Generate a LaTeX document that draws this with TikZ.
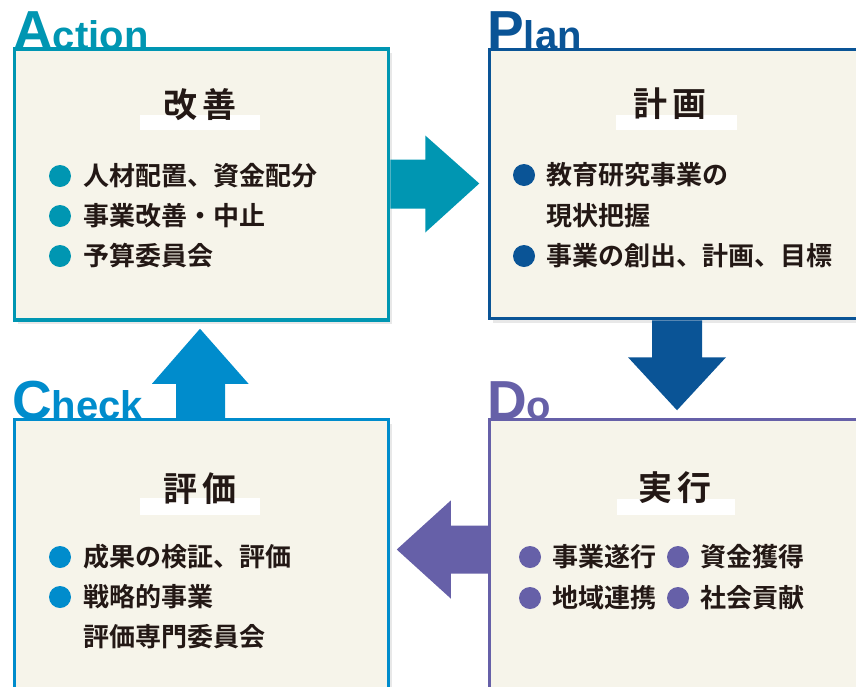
\documentclass[tikz,border=0pt]{standalone}
\usepackage{fontspec}
\newfontfamily\cjk{Noto Sans CJK JP Bold}
\newfontfamily\headfont{Liberation Sans}
\usetikzlibrary{shadows,calc}
\definecolor{actc}{RGB}{0,150,178}
\definecolor{planc}{RGB}{10,84,150}
\definecolor{chkc}{RGB}{0,140,204}
\definecolor{doc}{RGB}{102,96,168}
\definecolor{cream}{RGB}{246,244,234}
\definecolor{ink}{RGB}{35,24,21}
\tikzset{
  pdcabox/.style={draw=#1, line width=3.5pt, fill=cream, inner sep=0pt,
    drop shadow={opacity=0.18, shadow xshift=3pt, shadow yshift=-4pt}},
  headlbl/.style={text=#1, anchor=base west, inner sep=0pt, font=\headfont\bfseries},
  ttl/.style={text=ink, inner sep=0pt, font=\cjk\fontsize{34}{36}\selectfont},
  bartop/.style={fill=white},
  itm/.style={text=ink, anchor=west, inner sep=0pt, font=\cjk\fontsize{26}{28}\selectfont},
}
\begin{document}
\begin{tikzpicture}[x=1pt,y=-1pt]
\useasboundingbox (0,0) rectangle (856,686);
% boxes
\node[pdcabox=actc, minimum width=374pt, minimum height=271pt] (act) at (201.5,184.5) {};
\node[pdcabox=planc, minimum width=375pt, minimum height=269pt] (plan) at (677,184) {};
\node[pdcabox=chkc, minimum width=374pt, minimum height=272pt] (chk) at (201.5,555.5) {};
\node[pdcabox=doc, minimum width=375pt, minimum height=272pt] (do) at (677,555.5) {};
% arrows
\begin{scope}[shift={(act.east)}]
\fill[actc] (0,-25) -- (35,-25) -- (35,-49) -- (89,-1) -- (35,48) -- (35,24) -- (0,24) -- cycle;
\end{scope}
\begin{scope}[shift={(plan.south)}]
\fill[planc] (-25,0) -- (25,0) -- (25,37) -- (49,37) -- (0,90) -- (-49,37) -- (-25,37) -- cycle;
\end{scope}
\begin{scope}[shift={(chk.north)}]
\fill[chkc] (-25.5,0) -- (23.5,0) -- (23.5,-34) -- (47,-34) -- (-1.5,-89) -- (-49.5,-34) -- (-25.5,-34) -- cycle;
\end{scope}
\begin{scope}[shift={(do.west)}]
\fill[doc] (0,-30) -- (-37,-30) -- (-37,-55) -- (-91,-6) -- (-37,43) -- (-37,18) -- (0,18) -- cycle;
\end{scope}
% headings
\node[headlbl=actc] (hact) at (13,49) {\fontsize{55}{55}\selectfont A\fontsize{40}{40}\selectfont ction};
\node[headlbl=planc] (hplan) at (487,49) {\fontsize{55}{55}\selectfont P\fontsize{40}{40}\selectfont lan};
\node[headlbl=chkc] (hchk) at (12,419) {\fontsize{55}{55}\selectfont C\fontsize{40}{40}\selectfont heck};
\node[headlbl=doc] (hdo) at (487,419) {\fontsize{55}{55}\selectfont D\fontsize{40}{40}\selectfont o};
% title bars
\fill[bartop] (140,115) rectangle (260,130);
\fill[bartop] (616,115) rectangle (737,130);
\fill[bartop] (140,498) rectangle (260,515);
\fill[bartop] (617,499) rectangle (735,515);
% titles
\node[ttl] (tact) at (200,105) {改\hspace{6pt}善};
\node[ttl] (tplan) at (670,104) {計\hspace{6pt}画};
\node[ttl] (tchk) at (200,489) {評\hspace{6pt}価};
\node[ttl] (tdo) at (675,488) {実\hspace{6pt}行};
% Action items
\fill[actc] (60,176) circle (11);
\fill[actc] (60,216) circle (11);
\fill[actc] (60,256) circle (11);
\node[itm] (a1) at (83,176) {人材配置、資金配分};
\node[itm] (a2) at (83,216) {事業改善・中止};
\node[itm] (a3) at (83,256) {予算委員会};
% Plan items
\fill[planc] (524,175) circle (11);
\fill[planc] (524,256) circle (11);
\node[itm] (p1) at (546,175) {教育研究事業の};
\node[itm] (p2) at (546,216) {現状把握};
\node[itm] (p3) at (546,256) {事業の創出、計画、目標};
% Check items
\fill[chkc] (60,557) circle (11);
\fill[chkc] (60,597) circle (11);
\node[itm] (c1) at (83,557) {成果の検証、評価};
\node[itm] (c2) at (83,597) {戦略的事業};
\node[itm] (c3) at (83,637) {評価専門委員会};
% Do items
\fill[doc] (530,557) circle (11);
\fill[doc] (678,557) circle (11);
\fill[doc] (530,598) circle (11);
\fill[doc] (678,598) circle (11);
\node[itm] (d1) at (552,557) {事業遂行};
\node[itm] (d2) at (700,557) {資金獲得};
\node[itm] (d3) at (552,598) {地域連携};
\node[itm] (d4) at (700,598) {社会貢献};
\end{tikzpicture}
\end{document}
